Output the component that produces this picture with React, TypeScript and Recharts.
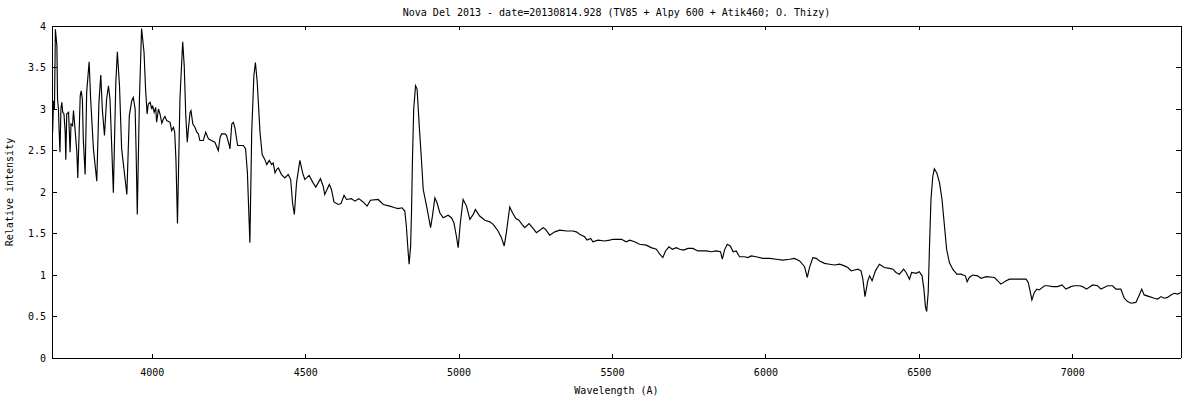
import { LineChart, Line, XAxis, YAxis } from "recharts";

// wavelength (Angstrom) and relative intensity
const wavelengths = [
  3675, 3678, 3681, 3684, 3689, 3691, 3694, 3696, 3699, 3702, 3705, 3708, 3712, 3716, 3718, 3721,
  3727, 3732, 3735, 3740, 3743, 3748, 3754, 3757, 3765, 3768, 3772, 3775, 3781, 3786, 3794, 3799,
  3808, 3819, 3826, 3832, 3837, 3844, 3851, 3857, 3862, 3866, 3873, 3881, 3886, 3893, 3900, 3917,
  3925, 3933, 3938, 3944, 3947, 3951, 3958, 3965, 3973, 3978, 3983, 3987, 3993, 3998, 4001, 4006,
  4011, 4014, 4020, 4025, 4031, 4036, 4041, 4047, 4058, 4063, 4069, 4073, 4077, 4082, 4090, 4099,
  4104, 4109, 4114, 4117, 4123, 4126, 4132, 4139, 4145, 4150, 4155, 4166, 4174, 4183, 4193, 4204,
  4215, 4221, 4226, 4237, 4242, 4251, 4253, 4259, 4264, 4269, 4278, 4286, 4297, 4304, 4310, 4313,
  4318, 4324, 4331, 4336, 4342, 4351, 4358, 4367, 4373, 4381, 4389, 4394, 4400, 4405, 4411, 4421,
  4432, 4443, 4451, 4457, 4463, 4470, 4481, 4490, 4497, 4511, 4524, 4533, 4548, 4557, 4562, 4577,
  4584, 4592, 4606, 4615, 4625, 4633, 4649, 4660, 4673, 4687, 4700, 4711, 4736, 4753, 4774, 4791,
  4801, 4814, 4823, 4828, 4834, 4837, 4842, 4845, 4848, 4852, 4858, 4863, 4870, 4877, 4883, 4894,
  4907, 4913, 4921, 4928, 4937, 4948, 4964, 4975, 4983, 4991, 4997, 5004, 5013, 5024, 5035, 5046,
  5053, 5067, 5084, 5100, 5111, 5127, 5138, 5147, 5154, 5165, 5174, 5185, 5195, 5205, 5214, 5228,
  5239, 5252, 5274, 5282, 5295, 5312, 5328, 5350, 5371, 5382, 5393, 5409, 5417, 5429, 5436, 5453,
  5474, 5491, 5502, 5529, 5545, 5556, 5572, 5588, 5610, 5626, 5643, 5654, 5664, 5673, 5684, 5695,
  5708, 5719, 5732, 5746, 5762, 5778, 5806, 5822, 5838, 5852, 5858, 5865, 5874, 5884, 5893, 5903,
  5914, 5930, 5941, 5952, 5968, 5990, 6012, 6034, 6055, 6077, 6093, 6110, 6126, 6135, 6142, 6153,
  6164, 6175, 6191, 6207, 6224, 6240, 6256, 6267, 6278, 6289, 6300, 6310, 6316, 6323, 6332, 6338,
  6346, 6357, 6370, 6386, 6403, 6414, 6424, 6435, 6449, 6457, 6468, 6475, 6490, 6500, 6509, 6515,
  6520, 6524, 6529, 6533, 6538, 6544, 6549, 6557, 6566, 6574, 6582, 6589, 6598, 6609, 6622, 6636,
  6650, 6656, 6663, 6674, 6690, 6701, 6718, 6745, 6756, 6766, 6783, 6794, 6815, 6848, 6855, 6861,
  6867, 6875, 6883, 6891, 6908, 6918, 6935, 6951, 6965, 6978, 6994, 7005, 7022, 7032, 7045, 7065,
  7081, 7092, 7114, 7130, 7141, 7157, 7168, 7179, 7190, 7206, 7217, 7225, 7233, 7250, 7266, 7277,
  7288, 7298, 7309, 7320, 7331, 7342, 7353,
];

const intensities = [
  2.72, 3.1, 3.0, 3.96, 3.76, 3.12, 3.0, 2.76, 2.48, 3.0, 3.08, 2.96, 2.94, 2.72, 2.39, 2.94,
  2.96, 2.48, 2.82, 2.8, 2.98, 2.76, 2.48, 2.17, 3.16, 3.22, 3.12, 2.64, 2.21, 3.2, 3.57, 3.12,
  2.52, 2.13, 3.08, 3.41, 3.0, 2.68, 3.12, 3.28, 3.12, 2.72, 1.99, 3.32, 3.69, 3.28, 2.52, 1.97,
  2.92, 3.1, 3.14, 3.0, 2.52, 1.73, 3.12, 3.97, 3.68, 3.24, 2.94, 3.06, 3.08, 3.0, 3.04, 2.96,
  3.02, 2.84, 3.0, 2.94, 2.83, 2.88, 2.91, 2.86, 2.84, 2.74, 2.78, 2.72, 2.39, 1.62, 3.12, 3.81,
  3.52, 2.92, 2.6, 2.74, 2.96, 2.98, 2.82, 2.78, 2.72, 2.7, 2.62, 2.62, 2.72, 2.64, 2.62, 2.6,
  2.5, 2.66, 2.7, 2.7, 2.68, 2.56, 2.52, 2.82, 2.84, 2.78, 2.56, 2.56, 2.56, 2.52, 2.23, 1.91,
  1.39, 2.72, 3.4, 3.56, 3.32, 2.72, 2.45, 2.39, 2.33, 2.38, 2.33, 2.35, 2.23, 2.27, 2.29, 2.21,
  2.17, 2.21, 2.15, 1.87, 1.73, 2.11, 2.38, 2.23, 2.15, 2.2, 2.11, 2.06, 2.16, 2.07, 1.97, 2.09,
  2.03, 1.88, 1.85, 1.86, 1.96, 1.91, 1.92, 1.89, 1.92, 1.88, 1.83, 1.9, 1.91, 1.85, 1.83, 1.81,
  1.8, 1.81, 1.77, 1.59, 1.27, 1.13, 1.35, 1.79, 2.4, 3.0, 3.28, 3.24, 2.8, 2.4, 2.03, 1.83,
  1.57, 1.71, 1.93, 1.87, 1.75, 1.69, 1.72, 1.69, 1.63, 1.47, 1.33, 1.63, 1.91, 1.83, 1.67, 1.73,
  1.79, 1.71, 1.66, 1.64, 1.61, 1.53, 1.45, 1.35, 1.51, 1.82, 1.75, 1.68, 1.66, 1.61, 1.57, 1.62,
  1.57, 1.51, 1.57, 1.55, 1.48, 1.52, 1.54, 1.53, 1.53, 1.52, 1.49, 1.46, 1.42, 1.44, 1.4, 1.42,
  1.41, 1.42, 1.43, 1.43, 1.4, 1.42, 1.4, 1.37, 1.36, 1.33, 1.31, 1.25, 1.21, 1.29, 1.34, 1.31,
  1.33, 1.31, 1.3, 1.32, 1.32, 1.29, 1.29, 1.28, 1.29, 1.28, 1.19, 1.3, 1.37, 1.35, 1.28, 1.29,
  1.22, 1.22, 1.21, 1.23, 1.22, 1.2, 1.2, 1.19, 1.18, 1.19, 1.2, 1.17, 1.1, 0.97, 1.09, 1.21,
  1.2, 1.17, 1.14, 1.13, 1.12, 1.13, 1.11, 1.09, 1.05, 1.06, 1.07, 1.05, 0.95, 0.74, 0.93, 0.99,
  0.93, 1.05, 1.13, 1.09, 1.08, 1.07, 1.03, 1.01, 1.07, 1.03, 0.95, 1.03, 1.02, 1.04, 0.99, 0.83,
  0.62, 0.56, 0.79, 1.31, 1.91, 2.19, 2.28, 2.23, 2.11, 1.91, 1.59, 1.31, 1.15, 1.07, 1.01, 1.01,
  0.99, 0.92, 0.97, 1.0, 0.99, 0.96, 0.98, 0.97, 0.93, 0.89, 0.93, 0.95, 0.95, 0.95, 0.91, 0.81,
  0.7, 0.79, 0.83, 0.82, 0.87, 0.87, 0.86, 0.86, 0.88, 0.83, 0.86, 0.87, 0.87, 0.86, 0.83, 0.88,
  0.87, 0.83, 0.87, 0.87, 0.83, 0.83, 0.72, 0.68, 0.66, 0.67, 0.76, 0.83, 0.76, 0.74, 0.72, 0.71,
  0.74, 0.72, 0.73, 0.76, 0.78, 0.77, 0.79,
];

const xTicks = [4000, 4500, 5000, 5500, 6000, 6500, 7000];
const yTicks = [0, 0.5, 1, 1.5, 2, 2.5, 3, 3.5, 4];

const TITLE = "Nova Del 2013 - date=20130814.928 (TV85 + Alpy 600 + Atik460; O. Thizy)";
const X_LABEL = "Wavelength (A)";
const Y_LABEL = "Relative intensity";

const spectrum = wavelengths.map((w, i) => ({ w, v: intensities[i] }));

const FONT = "'DejaVu Sans Mono', monospace";
const axisStyle = { stroke: "#000", shapeRendering: "crispEdges" };

const BottomTick = ({ x, y, payload }: any) => (
  <g>
    <line x1={x} y1={y} x2={x} y2={y - 4} stroke="#000" shapeRendering="crispEdges" />
    <text x={x} y={y + 14} textAnchor="middle" dominantBaseline="central"
      fontFamily={FONT} fontSize={10} fill="#000">
      {payload.value}
    </text>
  </g>
);

const TopTick = ({ x, y }: any) => (
  <line x1={x} y1={y} x2={x} y2={y + 4} stroke="#000" shapeRendering="crispEdges" />
);

const LeftTick = ({ x, y, payload }: any) => (
  <g>
    <line x1={x} y1={y} x2={x + 5} y2={y} stroke="#000" shapeRendering="crispEdges" />
    <text x={x - 6} y={y} textAnchor="end" dominantBaseline="central"
      fontFamily={FONT} fontSize={10} fill="#000">
      {payload.value}
    </text>
  </g>
);

const RightTick = ({ x, y }: any) => (
  <line x1={x} y1={y} x2={x - 5} y2={y} stroke="#000" shapeRendering="crispEdges" />
);

export default function App() {
  return (
    <div style={{ position: "absolute", left: 0, top: 0, width: 1200, height: 400, background: "#fff" }}>
      <LineChart width={1200} height={400} data={spectrum}
        margin={{ top: 0, right: 0, bottom: 0, left: 0 }}>
        <XAxis dataKey="w" type="number" domain={[3673, 7353]} allowDataOverflow
          ticks={xTicks} interval={0} height={42} tickSize={0} tickMargin={0}
          tickLine={false} axisLine={axisStyle} tick={<BottomTick />} />
        <XAxis xAxisId="top" orientation="top" dataKey="w" type="number"
          domain={[3673, 7353]} allowDataOverflow ticks={xTicks} interval={0}
          height={26} tickSize={0} tickMargin={0} tickLine={false}
          axisLine={axisStyle} tick={<TopTick />} />
        <YAxis type="number" domain={[0, 4]} allowDataOverflow ticks={yTicks}
          interval={0} width={52} tickSize={0} tickMargin={0} tickLine={false}
          axisLine={axisStyle} tick={<LeftTick />} />
        <YAxis yAxisId="right" orientation="right" type="number" domain={[0, 4]}
          allowDataOverflow ticks={yTicks} interval={0} width={19} tickSize={0}
          tickMargin={0} tickLine={false} axisLine={axisStyle}
          tick={<RightTick />} />
        <Line type="linear" dataKey="v" stroke="#000" strokeWidth={1.15}
          dot={false} activeDot={false} isAnimationActive={false} />
      </LineChart>
      <div style={{ position: "absolute", left: 52, top: 7, width: 1129, textAlign: "center",
        fontFamily: FONT, fontSize: 10, lineHeight: "12px", color: "#000" }}>
        {TITLE}
      </div>
      <div style={{ position: "absolute", left: 52, top: 385, width: 1129, textAlign: "center",
        fontFamily: FONT, fontSize: 10, lineHeight: "12px", color: "#000" }}>
        {X_LABEL}
      </div>
      <div style={{ position: "absolute", left: -90, top: 186, width: 200, height: 12,
        textAlign: "center", transform: "rotate(-90deg)", fontFamily: FONT, fontSize: 10,
        lineHeight: "12px", color: "#000" }}>
        {Y_LABEL}
      </div>
    </div>
  );
}
